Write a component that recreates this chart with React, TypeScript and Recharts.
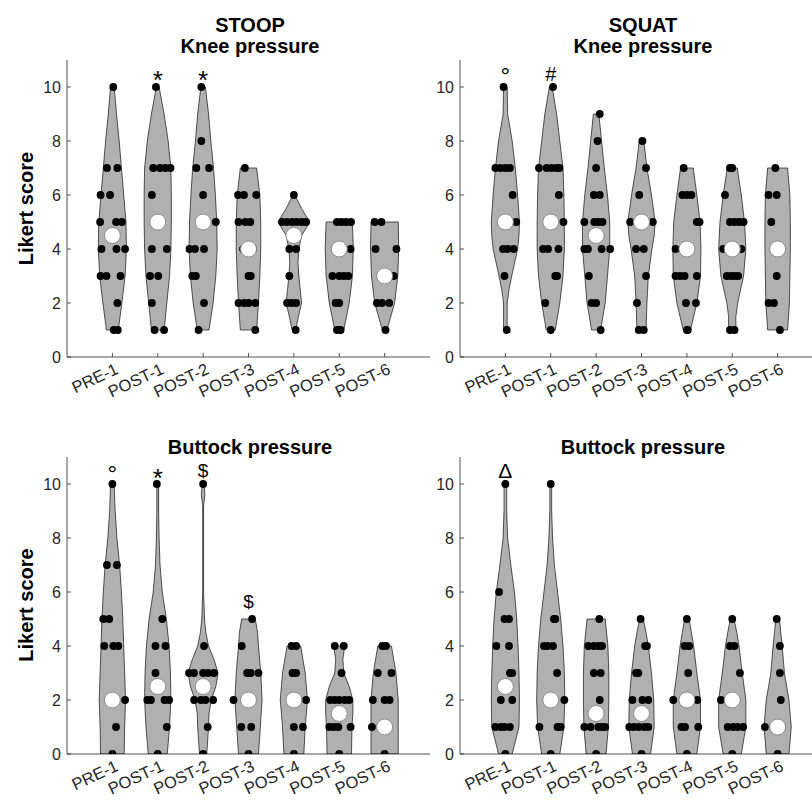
import React from "react";
import { ComposedChart, Area, Scatter, XAxis, YAxis } from "recharts";

const categories = ["PRE-1", "POST-1", "POST-2", "POST-3", "POST-4", "POST-5", "POST-6"];
const xTicks = [1, 2, 3, 4, 5, 6, 7];
const yTicks = [0, 2, 4, 6, 8, 10];

// medians (white circles), one per session
const stoopKneeMedians = [4.5, 5, 5, 4, 4.5, 4, 3];
const squatKneeMedians = [5, 5, 4.5, 5, 4, 4, 4];
const stoopButtockMedians = [2, 2.5, 2.5, 2, 2, 1.5, 1];
const squatButtockMedians = [2.5, 2, 1.5, 1.5, 2, 2, 1];

// individual scores: [score, jitter offsets...] per session
const stoopKneeDots = [
  [[10, 0.02], [7, -0.12, 0.11], [6, -0.26, -0.05], [5, -0.27, 0.08, 0.21], [4, -0.24, 0.09, 0.28], [3, -0.26, -0.13, 0.18], [2, 0.11], [1, 0.03, 0.12]],
  [[10, -0.04], [7, -0.1, 0.05, 0.17, 0.28], [6, -0.13], [4, -0.13, 0.2], [3, -0.17, 0.01], [2, -0.13], [1, -0.07, 0.14]],
  [[10, -0.04], [8, -0.04], [7, -0.15, 0.13], [6, 0.0], [5, 0.28], [4, -0.3, -0.18, 0.02], [3, -0.24, -0.16], [2, 0.02], [1, -0.1]],
  [[7, -0.08], [6, -0.23, -0.1, 0.17], [5, -0.22, -0.07, 0.04], [4, -0.12, 0.1], [3, 0.0, 0.05], [2, -0.22, -0.1, 0.0, 0.15], [1, 0.15]],
  [[6, 0.0], [5, -0.26, -0.15, -0.04, 0.06, 0.17, 0.27], [4, -0.1, 0.05], [3, -0.1], [2, -0.15, -0.05, 0.05], [1, 0.04]],
  [[5, -0.05, 0.05, 0.15, 0.26], [4, 0.25], [3, -0.15, 0.0, 0.1, 0.2], [2, -0.08, 0.0], [1, -0.05, 0.03]],
  [[5, -0.22, -0.07], [4, -0.2, 0.26], [3, 0.2], [2, -0.17, -0.06, 0.1], [1, 0.02]],
];
const squatKneeDots = [
  [[10, -0.04], [7, -0.22, -0.11, 0.0, 0.1], [6, 0.16], [5, 0.24], [4, -0.05, 0.05, 0.18], [3, -0.02], [1, 0.03]],
  [[10, 0.05], [7, -0.26, -0.09, 0.02, 0.13, 0.19], [6, 0.18], [5, 0.28], [4, -0.17, -0.06, 0.17], [3, 0.1, 0.14], [2, -0.12], [1, 0.0]],
  [[9, 0.08], [8, 0.03], [7, 0.0], [6, -0.05, 0.08], [5, -0.26, -0.04, 0.05, 0.14], [4, -0.26, -0.18, 0.12, 0.31], [3, -0.16], [2, -0.1, 0.0], [1, 0.1]],
  [[8, 0.02], [7, 0.1], [6, -0.05], [5, -0.25, 0.25], [4, -0.12, 0.05], [3, 0.1], [2, -0.1], [1, -0.06, 0.05]],
  [[7, -0.07], [6, -0.1, 0.0, 0.1], [5, 0.22, 0.28], [4, -0.25], [3, -0.25, -0.15, -0.05, 0.22], [2, -0.02, 0.2], [1, 0.0, 0.02]],
  [[7, -0.05, 0.0], [6, -0.16], [5, -0.05, 0.05, 0.15, 0.25], [4, -0.2, 0.2], [3, -0.12, -0.03, 0.05, 0.13], [1, -0.05, 0.05]],
  [[7, -0.05], [6, -0.2, -0.02], [5, -0.14], [3, -0.02], [2, -0.2, -0.08], [1, 0.05]],
];
const stoopButtockDots = [
  [[10, 0.0], [7, -0.12, 0.1], [5, -0.2, -0.07], [4, -0.18, 0.02, 0.13], [2, 0.28], [1, 0.08], [0, 0.0]],
  [[10, -0.02], [5, 0.1], [4, -0.05, 0.17], [3, -0.05], [2, -0.23, -0.15, 0.15, 0.25], [1, 0.2], [0, 0.0]],
  [[10, 0.0], [4, 0.02], [3, -0.31, -0.2, 0.0, 0.11, 0.24], [2, -0.2, -0.05, 0.05, 0.22], [1, 0.1], [0, 0.0]],
  [[5, 0.08], [4, -0.15], [3, -0.03, 0.05, 0.22], [2, -0.33], [1, -0.16, 0.06], [0, 0.0]],
  [[4, -0.05, 0.05], [3, -0.03, 0.05], [2, 0.27], [1, 0.0, 0.2], [0, 0.0]],
  [[4, -0.1, 0.1], [3, 0.05], [2, -0.2, -0.1, 0.0, 0.12, 0.22], [1, -0.22, -0.12, -0.02, 0.25], [0, 0.0]],
  [[4, -0.05, 0.03], [3, -0.15, 0.15], [2, -0.26, 0.0, 0.11], [1, -0.28], [0, 0.0]],
];
const squatButtockDots = [
  [[10, 0.0], [6, -0.14], [5, -0.02, 0.08], [4, -0.2, 0.08], [3, 0.1, 0.15], [2, -0.1, 0.15], [1, -0.22, -0.1, -0.02, 0.1], [0, 0.0]],
  [[10, 0.0], [5, 0.07, 0.1], [4, -0.15, -0.07, 0.05], [3, 0.14], [2, 0.3], [1, -0.25, 0.15, 0.22], [0, 0.0]],
  [[5, 0.07], [4, -0.17, -0.05, 0.05, 0.13], [3, -0.05, 0.1], [2, 0.08], [1, -0.26, -0.12, 0.05, 0.13, 0.2], [0, 0.0]],
  [[5, -0.02], [4, 0.08, 0.12], [3, -0.12, -0.07], [2, -0.2, 0.02, 0.15], [1, -0.27, -0.17, -0.06, 0.06, 0.15], [0, 0.0]],
  [[5, 0.0], [4, -0.05, 0.05], [3, 0.03], [2, -0.3, 0.23], [1, -0.12, -0.04, 0.25], [0, 0.0]],
  [[5, 0.0], [4, -0.05, 0.05], [3, 0.17], [2, -0.25], [1, -0.1, 0.02, 0.12, 0.24], [0, 0.0]],
  [[5, -0.02], [4, 0.05], [3, 0.05], [2, 0.07], [1, -0.28, 0.1], [0, 0.0]],
];

// violin half-widths: [score, half width in session units]
const stoopKneeWidths = [
  [[1, 0.13], [2, 0.21], [3, 0.28], [4, 0.31], [5, 0.3], [6, 0.25], [7, 0.2], [8, 0.15], [9, 0.09], [10, 0.04]],
  [[1, 0.14], [2, 0.2], [3, 0.26], [4, 0.29], [5, 0.3], [6, 0.3], [7, 0.29], [8, 0.23], [9, 0.14], [10, 0.03]],
  [[1, 0.13], [2, 0.22], [3, 0.28], [4, 0.31], [5, 0.3], [6, 0.27], [7, 0.23], [8, 0.17], [9, 0.12], [10, 0.05]],
  [[1, 0.18], [2, 0.22], [3, 0.25], [4, 0.27], [5, 0.27], [6, 0.25], [7, 0.18]],
  [[1, 0.04], [1.5, 0.1], [2, 0.17], [2.5, 0.14], [3, 0.11], [3.5, 0.09], [4, 0.11], [4.5, 0.17], [5, 0.35], [5.5, 0.17], [6, 0.02]],
  [[1, 0.1], [2, 0.22], [3, 0.29], [4, 0.31], [5, 0.29]],
  [[1, 0.05], [2, 0.22], [3, 0.29], [4, 0.31], [5, 0.3]],
];
const squatKneeWidths = [
  [[1, 0.04], [2, 0.04], [2.5, 0.08], [3, 0.14], [4, 0.27], [4.5, 0.3], [5, 0.31], [6, 0.27], [7, 0.22], [8, 0.15], [8.5, 0.1], [9, 0.05], [10, 0.04]],
  [[1, 0.1], [2, 0.2], [3, 0.27], [4, 0.3], [5, 0.3], [6, 0.29], [7, 0.27], [8, 0.2], [9, 0.13], [10, 0.03]],
  [[1, 0.1], [2, 0.2], [3, 0.25], [4, 0.3], [5, 0.3], [6, 0.25], [7, 0.18], [8, 0.12], [9, 0.06]],
  [[1, 0.1], [2, 0.12], [3, 0.15], [4, 0.23], [4.5, 0.28], [5, 0.3], [6, 0.22], [7, 0.12], [8, 0.05]],
  [[1, 0.08], [2, 0.22], [3, 0.3], [4, 0.31], [5, 0.29], [6, 0.22], [7, 0.14]],
  [[1, 0.08], [1.5, 0.08], [2, 0.12], [3, 0.25], [4, 0.3], [5, 0.27], [6, 0.2], [7, 0.11]],
  [[1, 0.22], [2, 0.26], [3, 0.27], [4, 0.28], [5, 0.28], [6, 0.27], [7, 0.22]],
];
const stoopButtockWidths = [
  [[0, 0.26], [1, 0.27], [2, 0.29], [3, 0.27], [4, 0.25], [5, 0.23], [6, 0.2], [7, 0.16], [8, 0.1], [9, 0.06], [10, 0.04]],
  [[0, 0.21], [1, 0.26], [2, 0.29], [3, 0.28], [4, 0.25], [5, 0.19], [6, 0.1], [7, 0.05], [8, 0.03], [9, 0.02], [10, 0.02]],
  [[0, 0.08], [0.5, 0.1], [1, 0.12], [1.5, 0.13], [2, 0.18], [2.5, 0.28], [3, 0.33], [3.5, 0.24], [4, 0.12], [4.5, 0.06], [5, 0.03], [6, 0.01], [8, 0.01], [9.2, 0.01], [9.6, 0.04], [10, 0.02]],
  [[0, 0.22], [1, 0.26], [2, 0.3], [3, 0.27], [4, 0.22], [4.5, 0.2], [5, 0.15]],
  [[0, 0.22], [1, 0.25], [2, 0.3], [3, 0.25], [4, 0.15]],
  [[0, 0.27], [1, 0.28], [1.5, 0.3], [2, 0.3], [2.5, 0.22], [3, 0.1], [3.5, 0.08], [4, 0.12]],
  [[0, 0.3], [1, 0.3], [2, 0.3], [3, 0.25], [4, 0.15]],
];
const squatButtockWidths = [
  [[0, 0.15], [1, 0.3], [2, 0.31], [3, 0.3], [4, 0.28], [5, 0.25], [6, 0.2], [7, 0.12], [8, 0.05], [9, 0.03], [10, 0.03]],
  [[0, 0.2], [1, 0.29], [2, 0.31], [3, 0.3], [4, 0.27], [5, 0.22], [6, 0.15], [7, 0.08], [8, 0.04], [9, 0.02], [10, 0.02]],
  [[0, 0.22], [1, 0.27], [2, 0.28], [3, 0.28], [4, 0.26], [5, 0.2]],
  [[0, 0.2], [1, 0.28], [2, 0.27], [3, 0.22], [4, 0.15], [4.5, 0.1], [5, 0.04]],
  [[0, 0.22], [1, 0.3], [2, 0.3], [3, 0.22], [4, 0.15], [4.5, 0.1], [5, 0.05]],
  [[0, 0.2], [1, 0.3], [2, 0.3], [3, 0.22], [4, 0.15], [4.5, 0.1], [5, 0.04]],
  [[0, 0.25], [1, 0.3], [2, 0.25], [3, 0.15], [4, 0.1], [5, 0.04]],
];

// significance symbols: [session, height, symbol]
const stoopKneeMarks = [[2, 10.5, "*"], [3, 10.5, "*"]];
const squatKneeMarks = [[1, 10.63, "°"], [2, 10.48, "#"]];
const stoopButtockMarks = [[1, 10.6, "°"], [2, 10.43, "*"], [3, 10.5, "$"], [4, 5.63, "$"]];
const squatButtockMarks = [[1, 10.52, "Δ"]];

const FONT = "'Liberation Sans', Arial, Helvetica, sans-serif";
const INK = "#262626";

// per symbol: font size and offset (em) from visual centre to baseline
const markSize: Record<string, number> = { "*": 26, "°": 24, "$": 19, "#": 20, "Δ": 21 };
const markShift: Record<string, number> = { "*": 0.58, "°": 0.6, "$": 0.33, "#": 0.36, "Δ": 0.36 };

function violinRows(widths: number[][], cat: number) {
  const rows = widths.map(([y, w]) => ({ y, range: [cat - w, cat + w] }));
  const lo = widths[0][0];
  const hi = widths[widths.length - 1][0];
  return [{ y: lo, range: [cat, cat] }, ...rows, { y: hi, range: [cat, cat] }];
}

function dotRows(groups: number[][][]) {
  const out: { x: number; y: number }[] = [];
  groups.forEach((g, i) => {
    g.forEach(([v, ...offs]) => offs.forEach((o) => out.push({ x: i + 1 + o, y: v })));
  });
  return out;
}

const XTick = (p: any) => {
  const lab = categories[p.payload.value - 1];
  const ex = p.x + 7;
  const ey = p.y + 16;
  return (
    <g>
      <line x1={p.x} x2={p.x} y1={p.y} y2={p.y - 4} stroke={INK} strokeWidth={0.8} />
      <text x={ex} y={ey} textAnchor="end" transform={`rotate(-25 ${ex} ${ey})`} fontSize={16.5} fontFamily={FONT} fill={INK}>
        {lab}
      </text>
    </g>
  );
};

const YTick = (p: any) => (
  <g>
    <line x1={p.x} x2={p.x + 4} y1={p.y} y2={p.y} stroke={INK} strokeWidth={0.8} />
    <text x={p.x - 6} y={p.y} dy="0.36em" textAnchor="end" fontSize={16} fontFamily={FONT} fill={INK}>
      {p.payload.value}
    </text>
  </g>
);

const DotShape = (p: any) => <circle cx={p.cx} cy={p.cy} r={3.9} fill="#000" />;
const MedianShape = (p: any) => <circle cx={p.cx} cy={p.cy} r={8} fill="#fff" stroke="#8a8a8a" strokeWidth={1} />;
const MarkShape = (p: any) => {
  const s = p.payload.sym;
  const fs = markSize[s] ?? 20;
  return (
    <text x={p.cx} y={p.cy + (markShift[s] ?? 0.35) * fs} textAnchor="middle" fontSize={fs} fontFamily={FONT} fill="#000">
      {s}
    </text>
  );
};

function Panel({ left, top, widths, dots, medians, marks }: any) {
  const medianRows = medians.map((m: number, i: number) => ({ x: i + 1, y: m }));
  const markRows = marks.map(([c, y, sym]: any) => ({ x: c, y, sym }));
  return (
    <div style={{ position: "absolute", left, top }}>
      <ComposedChart layout="vertical" width={440} height={420} margin={{ top: 60, right: 10, bottom: 3, left: 37 }}>
        <XAxis
          type="number"
          dataKey="x"
          domain={[0, 8]}
          ticks={xTicks}
          interval={0}
          allowDataOverflow
          height={60}
          tickSize={0}
          tickMargin={0}
          tickLine={false}
          tick={XTick}
          axisLine={{ stroke: INK, strokeWidth: 0.8 }}
        />
        <YAxis
          type="number"
          dataKey="y"
          domain={[0, 11]}
          ticks={yTicks}
          interval={0}
          reversed
          allowDataOverflow
          width={30}
          tickSize={0}
          tickMargin={0}
          tickLine={false}
          tick={YTick}
          axisLine={{ stroke: INK, strokeWidth: 0.8 }}
        />
        {widths.map((w: number[][], i: number) => (
          <Area
            key={"v" + i}
            data={violinRows(w, i + 1)}
            dataKey="range"
            type="linear"
            fill="#b0b0b0"
            fillOpacity={1}
            stroke="#111"
            strokeWidth={0.7}
            dot={false}
            activeDot={false}
            isAnimationActive={false}
          />
        ))}
        <Scatter data={dotRows(dots)} shape={DotShape} isAnimationActive={false} />
        <Scatter data={medianRows} shape={MedianShape} isAnimationActive={false} />
        <Scatter data={markRows} shape={MarkShape} isAnimationActive={false} />
      </ComposedChart>
    </div>
  );
}

export default function App() {
  const title = { fontFamily: FONT, fontWeight: 700, fontSize: 20, fill: "#000", textAnchor: "middle" as const };
  return (
    <div style={{ position: "absolute", left: 0, top: 0, width: 812, height: 804, overflow: "hidden", background: "#fff" }}>
      <Panel left={0} top={0} widths={stoopKneeWidths} dots={stoopKneeDots} medians={stoopKneeMedians} marks={stoopKneeMarks} />
      <Panel left={393} top={0} widths={squatKneeWidths} dots={squatKneeDots} medians={squatKneeMedians} marks={squatKneeMarks} />
      <Panel left={0} top={396.7} widths={stoopButtockWidths} dots={stoopButtockDots} medians={stoopButtockMedians} marks={stoopButtockMarks} />
      <Panel left={393} top={396.7} widths={squatButtockWidths} dots={squatButtockDots} medians={squatButtockMedians} marks={squatButtockMarks} />
      <svg width={812} height={804} style={{ position: "absolute", left: 0, top: 0, pointerEvents: "none" }}>
        <text x={250} y={31.7} {...title}>STOOP</text>
        <text x={250} y={53.3} {...title}>Knee pressure</text>
        <text x={643} y={31.7} {...title}>SQUAT</text>
        <text x={643} y={53.3} {...title}>Knee pressure</text>
        <text x={250} y={454} {...title}>Buttock pressure</text>
        <text x={643} y={454} {...title}>Buttock pressure</text>
        <text x={33} y={208.5} transform="rotate(-90 33 208.5)" {...title}>Likert score</text>
        <text x={33} y={605} transform="rotate(-90 33 605)" {...title}>Likert score</text>
      </svg>
    </div>
  );
}
